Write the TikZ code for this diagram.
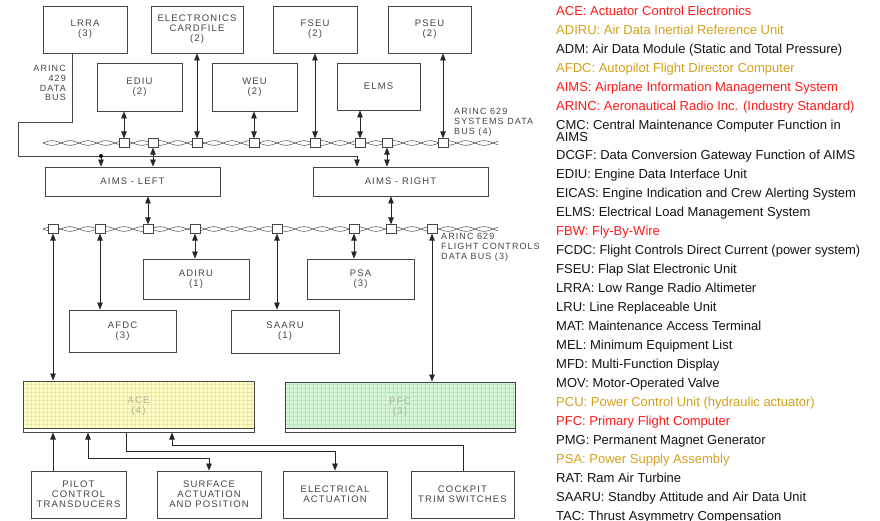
\documentclass[tikz,border=0pt]{standalone}
\usepackage{fontspec}
\setmainfont{Liberation Sans}
\newfontfamily\diagfont[LetterSpace=12]{Liberation Sans}
\usetikzlibrary{arrows.meta,calc}

\definecolor{ink}{HTML}{454545}
\definecolor{legred}{HTML}{FF1A1A}
\definecolor{leggold}{HTML}{D4A11E}
\definecolor{legblack}{HTML}{151515}
\definecolor{aceFill}{HTML}{FFFFC6}
\definecolor{aceGrid}{HTML}{E9E9A6}
\definecolor{aceText}{HTML}{B0B090}
\definecolor{pfcFill}{HTML}{DBF7DB}
\definecolor{pfcGrid}{HTML}{B9E5B9}
\definecolor{pfcText}{HTML}{A0B4A0}

\tikzset{
  box/.style={draw=ink, line width=0.8pt, fill=white, text=ink, align=center,
    inner sep=0pt, font=\diagfont\fontsize{9.5}{10}\selectfont},
  tap/.style={draw=ink, line width=0.7pt, fill=white, minimum width=10pt,
    minimum height=8.5pt, inner sep=0pt},
  link/.style={draw=black!85, line width=0.75pt},
  tip/.tip={Triangle[length=7pt,width=5.5pt]},
  dbl/.style={link, tip-tip},
  one/.style={link, -tip},
  wire/.style={draw=ink, line width=0.5pt},
  buslabel/.style={text=ink, inner sep=0pt, font=\diagfont\fontsize{9}{9.8}\selectfont},
  legend/.style={anchor=base west, inner sep=0pt, font=\fontsize{13}{15}\selectfont},
  gridfill/.style n args={2}{fill=#1, path picture={
      \foreach \g in {0,4,...,240}
        \draw[#2, line width=0.35pt]
          ([xshift=\g pt]path picture bounding box.south west) --
          ([xshift=\g pt]path picture bounding box.north west);
      \foreach \g in {0,4,...,52}
        \draw[#2, line width=0.35pt]
          ([yshift=\g pt]path picture bounding box.south west) --
          ([yshift=\g pt]path picture bounding box.south east);
      \fill[white] (path picture bounding box.south west) rectangle
          ([yshift=4pt]path picture bounding box.south east);
      \draw[ink, line width=1pt] ([yshift=4pt]path picture bounding box.south west) --
          ([yshift=4pt]path picture bounding box.south east);
    }},
}

% twisted-pair data bus: centre line y, from x1 to x2
\newcommand\twistedbus[3]{%
  \draw[wire] plot[domain=#2:#3, samples=260] (\x, {#1+2.3*sin((\x-#2)*10)});
  \draw[wire] plot[domain=#2:#3, samples=260] (\x, {#1-2.3*sin((\x-#2)*10)});
}

\begin{document}
\begin{tikzpicture}[x=1pt, y=-1pt]
\useasboundingbox[fill=white] (0,0) rectangle (880,521);

% ---------------- upper units ----------------
\node[box, minimum width=84pt, minimum height=47pt] (lrra) at (85,29.5) {LRRA\\(3)};
\node[box, minimum width=92pt, minimum height=47pt] (card) at (197,29.5) {ELECTRONICS\\CARDFILE\\(2)};
\node[box, minimum width=84pt, minimum height=47pt] (fseu) at (315,29.5) {FSEU\\(2)};
\node[box, minimum width=83pt, minimum height=47pt] (pseu) at (429.5,29.5) {PSEU\\(2)};
\node[box, minimum width=85pt, minimum height=48pt] (ediu) at (139.5,87) {EDIU\\(2)};
\node[box, minimum width=85pt, minimum height=48pt] (weu) at (254.5,87) {WEU\\(2)};
\node[box, minimum width=83pt, minimum height=47pt] (elms) at (378.5,86.5) {ELMS};

% ---------------- ARINC 629 systems bus ----------------
\twistedbus{143}{43}{498}
\node[tap] (sEdiu) at (124,143) {};
\node[tap] (sAimsL) at (153,143) {};
\node[tap] (sCard) at (197,143) {};
\node[tap] (sWeu) at (254,143) {};
\node[tap] (sFseu) at (315,143) {};
\node[tap] (sElms) at (360,143) {};
\node[tap] (sAimsR) at (387,143) {};
\node[tap] (sPseu) at (443,143) {};

\node[buslabel, anchor=north east, align=right] (l429) at (66,65) {ARINC\\429\\DATA\\BUS};
\node[buslabel, anchor=north west, align=left] (l629s) at (454,108.5) {ARINC 629\\SYSTEMS DATA\\BUS (4)};

% ---------------- AIMS cabinets ----------------
\node[box, minimum width=175pt, minimum height=29pt] (aimsL) at (132.5,181.5) {AIMS - LEFT};
\node[box, minimum width=175pt, minimum height=29pt] (aimsR) at (400.5,181.5) {AIMS - RIGHT};

\draw[dbl] (ediu.south -| sEdiu) -- (sEdiu.north);
\draw[dbl] (card.south) -- (sCard.north);
\draw[dbl] (weu.south -| sWeu) -- (sWeu.north);
\draw[dbl] (fseu.south) -- (sFseu.north);
\draw[dbl] (elms.south -| sElms) -- (sElms.north);
\draw[dbl] (pseu.south -| sPseu) -- (sPseu.north);
\draw[dbl] (sAimsL.south) -- (sAimsL.south |- aimsL.north);
\draw[dbl] (sAimsR.south) -- (sAimsR.south |- aimsR.north);

% ARINC 429 line from the LRRA
\coordinate (lrraOut) at ([xshift=-13pt]lrra.south);
\coordinate (bend) at (18,156);
\coordinate (dropL) at (101,156);
\coordinate (dropR) at (357,156);
\draw[link, draw=ink] (lrraOut) -- ++(0,69) -| (bend) -- (dropR);
\fill[black] (dropL) circle (2pt);
\draw[one] (dropL) -- (dropL |- aimsL.north);
\draw[one] (dropR) -- (dropR |- aimsR.north);

% ---------------- ARINC 629 flight controls bus ----------------
\twistedbus{229}{43}{498}
\node[tap] (fAce) at (53,229) {};
\node[tap] (fAfdc) at (100,229) {};
\node[tap] (fAimsL) at (148,229) {};
\node[tap] (fAdiru) at (195,229) {};
\node[tap] (fSaaru) at (277,229) {};
\node[tap] (fPsa) at (354,229) {};
\node[tap] (fAimsR) at (391,229) {};
\node[tap] (fPfc) at (432,229) {};

\node[buslabel, anchor=north west, align=left] (l629f) at (441,233.5) {ARINC 629\\FLIGHT CONTROLS\\DATA BUS (3)};

\node[box, minimum width=106pt, minimum height=40pt] (adiru) at (196,279) {ADIRU\\(1)};
\node[box, minimum width=107pt, minimum height=40pt] (psa) at (360.5,279) {PSA\\(3)};
\node[box, minimum width=107pt, minimum height=42pt] (afdc) at (122.5,331) {AFDC\\(3)};
\node[box, minimum width=108pt, minimum height=43pt] (saaru) at (285,331.5) {SAARU\\(1)};

\node[box, gridfill={aceFill}{aceGrid}, text=aceText, line width=1pt,
      minimum width=231pt, minimum height=51pt] (ace) at (138.5,406.5) {ACE\\(4)};
\node[box, gridfill={pfcFill}{pfcGrid}, text=pfcText, line width=1pt,
      minimum width=230pt, minimum height=50pt] (pfc) at (400,407) {PFC\\(3)};

\draw[dbl] (fAce.south) -- (fAce.south |- ace.north);
\draw[dbl] (fAfdc.south) -- (fAfdc.south |- afdc.north);
\draw[dbl] (aimsL.south -| fAimsL) -- (fAimsL.north);
\draw[dbl] (fAdiru.south) -- (fAdiru.south |- adiru.north);
\draw[dbl] (fSaaru.south) -- (fSaaru.south |- saaru.north);
\draw[dbl] (fPsa.south) -- (fPsa.south |- psa.north);
\draw[dbl] (aimsR.south -| fAimsR) -- (fAimsR.north);
\draw[dbl] (fPfc.south) -- (fPfc.south |- pfc.north);

% ---------------- lower units ----------------
\node[box, minimum width=95pt, minimum height=47pt] (pilot) at (78.5,494.5) {PILOT\\CONTROL\\TRANSDUCERS};
\node[box, minimum width=104pt, minimum height=47pt] (surf) at (209,494.5) {SURFACE\\ACTUATION\\AND POSITION};
\node[box, minimum width=104pt, minimum height=47pt] (elec) at (335,494.5) {ELECTRICAL\\ACTUATION};
\node[box, minimum width=103pt, minimum height=47pt] (cockpit) at (462.5,494.5) {COCKPIT\\TRIM SWITCHES};

\coordinate (pilotOut) at ([xshift=-25.5pt]pilot.north);
\coordinate (aceSurf) at ([xshift=-50.5pt]ace.south);
\coordinate (aceElec) at ([xshift=-12.5pt]ace.south);
\coordinate (aceTrim) at ([xshift=33.5pt]ace.south);
\coordinate (trimOut) at ([xshift=0.5pt]cockpit.north);

\draw[one] (pilotOut) -- (pilotOut |- ace.south);
\draw[link, tip-tip] (aceSurf) -- ++(0,25.5) -| (surf.north);
\draw[one] (aceElec) -- ++(0,18.5) -| (elec.north);
\draw[one] (trimOut) -- ++(0,-25.5) -| (aceTrim);

% ---------------- abbreviations ----------------
\node[legend, text=legred]   (g1) at (556,16)  {ACE: Actuator Control Electronics};
\node[legend, text=leggold]  (g2) at (556,35)  {ADIRU: Air Data Inertial Reference Unit};
\node[legend, text=legblack] (g3) at (556,54)  {ADM: Air Data Module (Static and Total Pressure)};
\node[legend, text=leggold]  (g4) at (556,73)  {AFDC: Autopilot Flight Director Computer};
\node[legend, text=legred]   (g5) at (556,92)  {AIMS: Airplane Information Management System};
\node[legend, text=legred]   (g6) at (556,111) {ARINC: Aeronautical Radio Inc. (Industry Standard)};
\node[legend, text=legblack] (g7) at (556,129.5) {CMC: Central Maintenance Computer Function in};
\node[legend, text=legblack] (g7b) at (556,141.5) {AIMS};
\node[legend, text=legblack] (g8) at (556,159.5) {DCGF: Data Conversion Gateway Function of AIMS};
\node[legend, text=legblack] (g9) at (556,178.5) {EDIU: Engine Data Interface Unit};
\node[legend, text=legblack] (g10) at (556,197.5) {EICAS: Engine Indication and Crew Alerting System};
\node[legend, text=legblack] (g11) at (556,216.4) {ELMS: Electrical Load Management System};
\node[legend, text=legred]   (g12) at (556,235.4) {FBW: Fly-By-Wire};
\node[legend, text=legblack] (g13) at (556,254.4) {FCDC: Flight Controls Direct Current (power system)};
\node[legend, text=legblack] (g14) at (556,273.4) {FSEU: Flap Slat Electronic Unit};
\node[legend, text=legblack] (g15) at (556,292.4) {LRRA: Low Range Radio Altimeter};
\node[legend, text=legblack] (g16) at (556,311.3) {LRU: Line Replaceable Unit};
\node[legend, text=legblack] (g17) at (556,330.3) {MAT: Maintenance Access Terminal};
\node[legend, text=legblack] (g18) at (556,349.3) {MEL: Minimum Equipment List};
\node[legend, text=legblack] (g19) at (556,368.2) {MFD: Multi-Function Display};
\node[legend, text=legblack] (g20) at (556,387.2) {MOV: Motor-Operated Valve};
\node[legend, text=leggold]  (g21) at (556,406.2) {PCU: Power Control Unit (hydraulic actuator)};
\node[legend, text=legred]   (g22) at (556,425.2) {PFC: Primary Flight Computer};
\node[legend, text=legblack] (g23) at (556,444.1) {PMG: Permanent Magnet Generator};
\node[legend, text=leggold]  (g24) at (556,463.1) {PSA: Power Supply Assembly};
\node[legend, text=legblack] (g25) at (556,482.1) {RAT: Ram Air Turbine};
\node[legend, text=legblack] (g26) at (556,501)   {SAARU: Standby Attitude and Air Data Unit};
\node[legend, text=legblack] (g27) at (556,520)   {TAC: Thrust Asymmetry Compensation};
\end{tikzpicture}
\end{document}
